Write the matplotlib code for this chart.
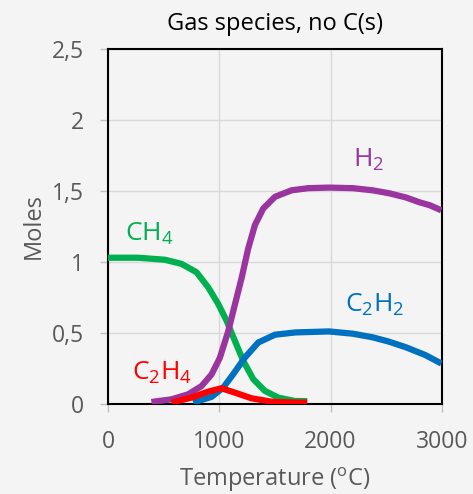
import numpy as np
import matplotlib.pyplot as plt

# data (temperature in C, moles)
t_ch4 = [0, 270, 510, 660, 795, 900, 990, 1065, 1140, 1215, 1305, 1410, 1530, 1680, 1790]
ch4 = [1.03, 1.03, 1.016, 0.987, 0.928, 0.822, 0.705, 0.587, 0.445, 0.304, 0.175, 0.092, 0.045, 0.021, 0.02]

t_h2 = [390, 570, 720, 840, 930, 1005, 1080, 1140, 1200, 1260, 1320, 1395, 1500, 1650, 1800, 1985, 2200, 2375, 2520, 2675, 2800, 2890, 2995]
h2 = [0.014, 0.033, 0.068, 0.126, 0.208, 0.325, 0.512, 0.70, 0.886, 1.096, 1.26, 1.377, 1.459, 1.505, 1.52, 1.524, 1.52, 1.505, 1.485, 1.455, 1.42, 1.40, 1.364]

t_c2h2 = [765, 930, 1035, 1125, 1230, 1350, 1500, 1685, 1985, 2200, 2375, 2520, 2675, 2850, 2995]
c2h2 = [0.01, 0.05, 0.115, 0.21, 0.327, 0.433, 0.488, 0.504, 0.511, 0.495, 0.47, 0.44, 0.40, 0.345, 0.285]

t_c2h4 = [570, 750, 900, 1020, 1140, 1290, 1470, 1710, 1790]
c2h4 = [0.01, 0.045, 0.087, 0.111, 0.08, 0.04, 0.016, 0.01, 0.01]

y_ticks = [0, 0.5, 1, 1.5, 2, 2.5]
y_labels = ['0', '0,5', '1', '1,5', '2', '2,5']
x_ticks = [0, 1000, 2000, 3000]

plt.rcParams['font.family'] = ['Open Sans', 'DejaVu Sans']
bg = '#f4f4f4'
fig = plt.figure(figsize=(4.73, 4.94), dpi=100, facecolor=bg)
ax = fig.add_axes([0.2283, 0.1822, 0.706, 0.7186], facecolor=bg)

green = '#00b050'
purple = '#9a35a0'
blue = '#0070c0'
red = '#ff0000'
lw = 4.5
style = dict(lw=lw, solid_capstyle='butt', solid_joinstyle='round')
ax.plot(t_ch4, ch4, color=green, zorder=3, **style)
ax.plot(t_h2, h2, color=purple, zorder=3, **style)
ax.plot(t_c2h2, c2h2, color=blue, zorder=3, **style)
ax.plot(t_c2h4, c2h4, color=red, zorder=4, **style)

ax.set_xlim(0, 3000)
ax.set_ylim(0, 2.5)
ax.set_xticks(x_ticks)
ax.set_yticks(y_ticks)
ax.set_yticklabels(y_labels)
ax.grid(True, color='#d9d9d9', lw=1)
ax.set_axisbelow(True)
for s in ax.spines.values():
    s.set_color('black')
    s.set_linewidth(1.5)
ax.tick_params(colors='#595959', labelsize=16.5, length=6, width=1, color='#bfbfbf')
ax.tick_params(axis='x', pad=13)
ax.tick_params(axis='y', pad=11)

ax.set_title('Gas species, no C(s)', fontsize=17, color='black', pad=14)
ax.set_xlabel('Temperature ($\\mathregular{^o}$C)', fontsize=17, color='#595959', labelpad=8)
ax.set_ylabel('Moles', fontsize=17, color='#595959', labelpad=5)

fs = 19
ax.text(150, 1.2, 'CH$\\mathregular{_4}$', color=green, fontsize=fs, va='center')
ax.text(2200, 1.72, 'H$\\mathregular{_2}$', color=purple, fontsize=fs, va='center')
ax.text(2130, 0.7, 'C$\\mathregular{_2}$H$\\mathregular{_2}$', color=blue, fontsize=fs, va='center')
ax.text(220, 0.22, 'C$\\mathregular{_2}$H$\\mathregular{_4}$', color=red, fontsize=fs, va='center')

fig.savefig('out.png', dpi=100, facecolor=bg)
